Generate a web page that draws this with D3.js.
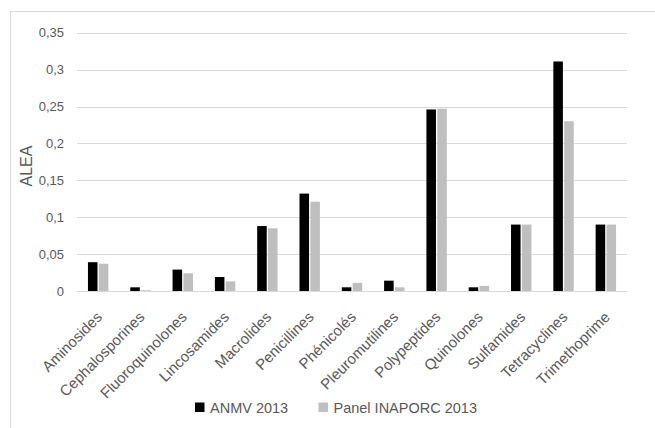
<!DOCTYPE html>
<html>
<head>
<meta charset="utf-8">
<script src="https://cdn.jsdelivr.net/npm/d3@7"></script>
<style>
  html, body { margin: 0; padding: 0; background: #fff; }
  svg { display: block; font-family: "Liberation Sans", Arial, sans-serif; }
</style>
</head>
<body>
<svg id="chart" width="655" height="428"></svg>
<script>
const categories = ["Aminosides", "Cephalosporines", "Fluoroquinolones", "Lincosamides", "Macrolides",
  "Penicillines", "Phénicolés", "Pleuromutilines", "Polypeptides", "Quinolones", "Sulfamides",
  "Tetracyclines", "Trimethoprime"];
const seriesNames = ["ANMV 2013", "Panel INAPORC 2013"];
const anmv2013 = [0.039, 0.005, 0.029, 0.019, 0.088, 0.132, 0.005, 0.014, 0.246, 0.005, 0.090, 0.311, 0.090];
const inaporc2013 = [0.037, 0.001, 0.024, 0.013, 0.085, 0.121, 0.011, 0.005, 0.247, 0.007, 0.090, 0.230, 0.090];
const yTicks = [0, 0.05, 0.1, 0.15, 0.2, 0.25, 0.3, 0.35];
const yTickLabels = ["0", "0,05", "0,1", "0,15", "0,2", "0,25", "0,3", "0,35"];
const yTitle = "ALEA";
const colors = ["#000000", "#bfbfbf"];

const svg = d3.select("#chart");
const textColor = "#595959";
const gridColor = "#d9d9d9";

// chart frame
svg.append("rect").attr("x", 10.5).attr("y", 11.5).attr("width", 700).attr("height", 500)
  .attr("fill", "none").attr("stroke", gridColor).attr("stroke-width", 1);

const plot = { left: 77, right: 627, top: 32.7, bottom: 291 };

const y = d3.scaleLinear().domain([0, 0.35]).range([plot.bottom, plot.top]);
const x0 = d3.scaleBand().domain(categories).range([plot.left, plot.right]).paddingInner(0).paddingOuter(0);
const groupW = 21.7;
const x1 = d3.scaleBand().domain(seriesNames).range([0, groupW]);

// gridlines
svg.append("g").selectAll("line").data(yTicks).join("line")
  .attr("x1", plot.left).attr("x2", plot.right)
  .attr("y1", d => Math.round(y(d)) + 0.5).attr("y2", d => Math.round(y(d)) + 0.5)
  .attr("stroke", gridColor).attr("stroke-width", 1);

// y axis labels
const yAxis = d3.axisLeft(y).tickValues(yTicks).tickSize(0).tickPadding(0)
  .tickFormat((d, i) => yTickLabels[i]);
const gy = svg.append("g").attr("transform", "translate(64,0)").call(yAxis);
gy.select(".domain").remove();
gy.selectAll("text").attr("fill", textColor).style("font-size", "13px")
  .style("font-family", "'Liberation Sans', Arial, sans-serif");

// y title
svg.append("text").attr("transform", `translate(32,166) rotate(-90)`)
  .attr("text-anchor", "middle").attr("fill", textColor).style("font-size", "16px").text(yTitle);

// bars
const seriesData = [anmv2013, inaporc2013];
const barW = x1.bandwidth() - 1.3;
seriesData.forEach((vals, si) => {
  svg.append("g").selectAll("rect").data(categories).join("rect")
    .attr("x", c => x0(c) + (x0.bandwidth() - groupW) / 2 + x1(seriesNames[si]) + (x1.bandwidth() - barW) / 2)
    .attr("y", (c, i) => y(vals[i]))
    .attr("width", barW)
    .attr("height", (c, i) => y(0) - y(vals[i]))
    .attr("fill", colors[si]);
});

// category labels (rotated)
const xAxis = d3.axisBottom(x0).tickSize(0).tickPadding(0);
const gx = svg.append("g").attr("transform", `translate(0,${plot.bottom})`).call(xAxis);
gx.select(".domain").remove();
gx.selectAll("text")
  .attr("fill", textColor)
  .style("font-size", "15px")
  .style("font-family", "'Liberation Sans', Arial, sans-serif")
  .attr("text-anchor", "end")
  .attr("dy", null)
  .attr("y", null)
  .attr("transform", "translate(5,27) rotate(-45)");

// axis line at zero
svg.append("line").attr("x1", plot.left).attr("x2", plot.right)
  .attr("y1", Math.round(y(0)) + 0.5).attr("y2", Math.round(y(0)) + 0.5)
  .attr("stroke", gridColor).attr("stroke-width", 1);

// legend
const legendItems = [{ name: seriesNames[0], x: 195 }, { name: seriesNames[1], x: 318.5 }];
const lg = svg.append("g");
legendItems.forEach((it, i) => {
  lg.append("rect").attr("x", it.x).attr("y", 402.5).attr("width", 9.5).attr("height", 9.5).attr("fill", colors[i]);
  lg.append("text").attr("x", it.x + 15).attr("y", 412.5).attr("fill", textColor)
    .style("font-size", "14.5px").text(it.name);
});
</script>
</body>
</html>
